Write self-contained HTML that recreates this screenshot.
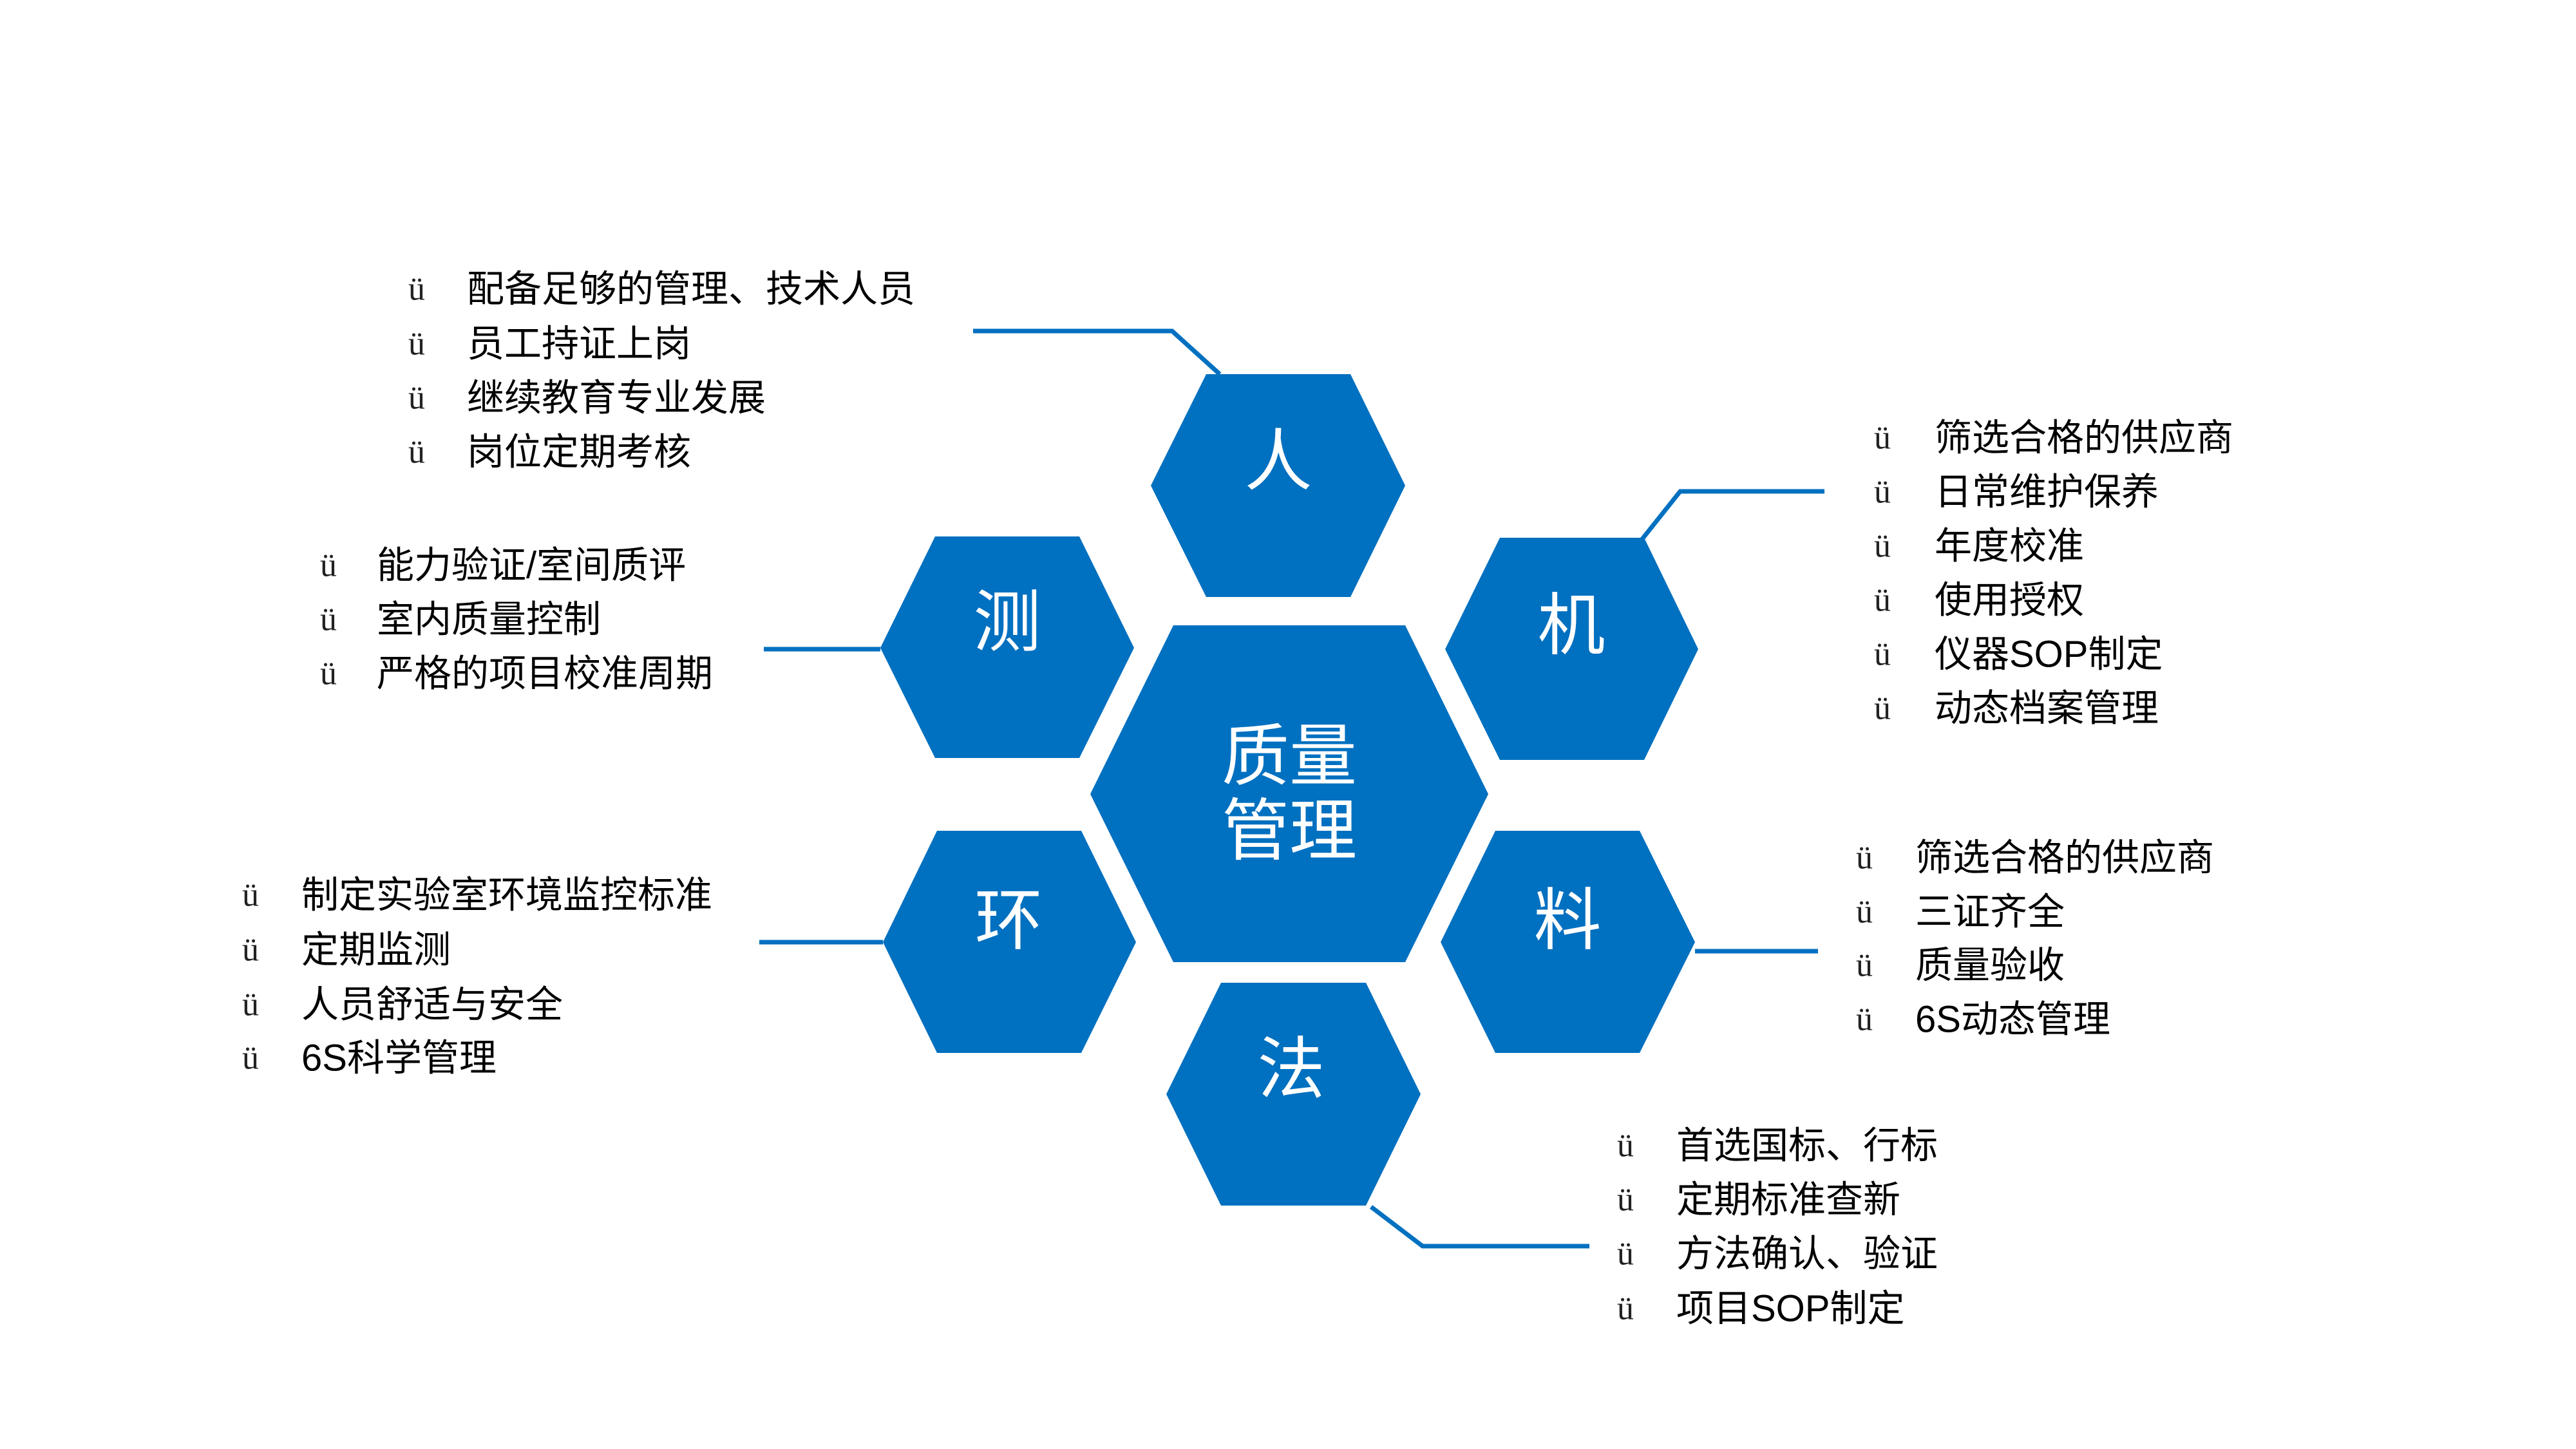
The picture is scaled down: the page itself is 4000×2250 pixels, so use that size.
<!DOCTYPE html>
<html><head><meta charset="utf-8"><style>
html,body{margin:0;padding:0;background:#fff;}
svg{display:block;}
.t{font-family:"Liberation Sans","Noto Sans CJK SC",sans-serif;font-size:58px;fill:#000;dominant-baseline:central;}
.b{font-family:"Liberation Serif",serif;font-size:52px;fill:#222;dominant-baseline:central;}
.h{font-family:"Liberation Sans","Noto Sans CJK SC",sans-serif;font-size:105px;fill:#fff;text-anchor:middle;dominant-baseline:central;}
</style></head><body>
<svg width="4000" height="2250" viewBox="0 0 4000 2250" xmlns="http://www.w3.org/2000/svg">
<g fill="#0070C0">
<polygon points="1873,581 2097,581 2182,754 2097,927 1873,927 1787,754"/>
<polygon points="1452,833 1676,833 1761,1006 1676,1177 1452,1177 1367,1006"/>
<polygon points="2329,835 2553,835 2637,1008 2553,1180 2329,1180 2244,1008"/>
<polygon points="1822,971 2182,971 2311,1233 2182,1494 1822,1494 1693,1233"/>
<polygon points="1455,1290 1679,1290 1764,1463 1679,1635 1455,1635 1371,1463"/>
<polygon points="2322,1290 2546,1290 2632,1463 2546,1635 2322,1635 2237,1463"/>
<polygon points="1896,1526 2121,1526 2206,1699 2121,1872 1896,1872 1811,1699"/>
</g>
<g fill="none" stroke="#0070C0" stroke-width="7">
<polyline points="1511,514 1820,514 1894,581"/>
<polyline points="2550,837 2609,763 2833,763"/>
<polyline points="1186,1008 1367,1008"/>
<polyline points="1179,1463 1371,1463"/>
<polyline points="2632,1477 2823,1477"/>
<polyline points="2129,1874 2209,1935 2468,1935"/>
</g>
<text class="h" x="1985" y="717">人</text>
<text class="h" x="1564" y="967">测</text>
<text class="h" x="2440" y="972">机</text>
<text class="h" x="1566" y="1430">环</text>
<text class="h" x="2434" y="1430">料</text>
<text class="h" x="2005" y="1661">法</text>
<text class="h" x="2002" y="1175">质量</text>
<text class="h" x="2002" y="1291">管理</text>

<g>
<text class="b" x="634" y="449">ü</text><text class="t" x="725" y="449">配备足够的管理、技术人员</text>
<text class="b" x="634" y="534">ü</text><text class="t" x="725" y="534">员工持证上岗</text>
<text class="b" x="634" y="618">ü</text><text class="t" x="725" y="618">继续教育专业发展</text>
<text class="b" x="634" y="702">ü</text><text class="t" x="725" y="702">岗位定期考核</text>

<text class="b" x="497" y="878">ü</text><text class="t" x="585" y="878">能力验证/室间质评</text>
<text class="b" x="497" y="962">ü</text><text class="t" x="585" y="962">室内质量控制</text>
<text class="b" x="497" y="1046">ü</text><text class="t" x="585" y="1046">严格的项目校准周期</text>

<text class="b" x="2910" y="680">ü</text><text class="t" x="3004" y="680">筛选合格的供应商</text>
<text class="b" x="2910" y="764">ü</text><text class="t" x="3004" y="764">日常维护保养</text>
<text class="b" x="2910" y="848">ü</text><text class="t" x="3004" y="848">年度校准</text>
<text class="b" x="2910" y="932">ü</text><text class="t" x="3004" y="932">使用授权</text>
<text class="b" x="2910" y="1016">ü</text><text class="t" x="3004" y="1016">仪器SOP制定</text>
<text class="b" x="2910" y="1100">ü</text><text class="t" x="3004" y="1100">动态档案管理</text>

<text class="b" x="376" y="1390">ü</text><text class="t" x="468" y="1390">制定实验室环境监控标准</text>
<text class="b" x="376" y="1475">ü</text><text class="t" x="468" y="1475">定期监测</text>
<text class="b" x="376" y="1560">ü</text><text class="t" x="468" y="1560">人员舒适与安全</text>
<text class="b" x="376" y="1643">ü</text><text class="t" x="468" y="1643">6S科学管理</text>

<text class="b" x="2882" y="1332">ü</text><text class="t" x="2974" y="1332">筛选合格的供应商</text>
<text class="b" x="2882" y="1416">ü</text><text class="t" x="2974" y="1416">三证齐全</text>
<text class="b" x="2882" y="1499">ü</text><text class="t" x="2974" y="1499">质量验收</text>
<text class="b" x="2882" y="1583">ü</text><text class="t" x="2974" y="1583">6S动态管理</text>

<text class="b" x="2511" y="1779">ü</text><text class="t" x="2603" y="1779">首选国标、行标</text>
<text class="b" x="2511" y="1863">ü</text><text class="t" x="2603" y="1863">定期标准查新</text>
<text class="b" x="2511" y="1947">ü</text><text class="t" x="2603" y="1947">方法确认、验证</text>
<text class="b" x="2511" y="2032">ü</text><text class="t" x="2603" y="2032">项目SOP制定</text>
</g>
</svg>
</body></html>
